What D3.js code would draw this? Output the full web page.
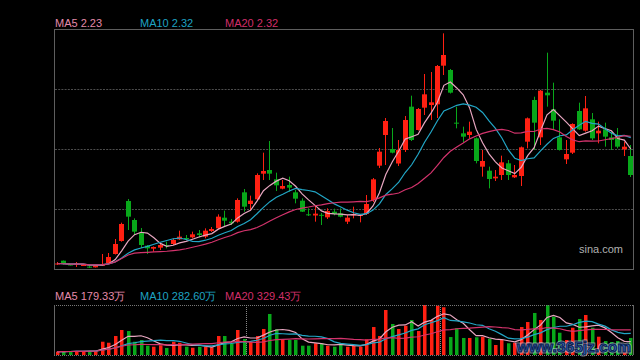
<!DOCTYPE html>
<html><head><meta charset="utf-8">
<script src="https://cdn.jsdelivr.net/npm/d3@7/dist/d3.min.js"></script>
<style>html,body{margin:0;padding:0;background:#000}svg{display:block}</style>
</head><body><svg id="c" width="640" height="360"></svg>
<script>
const opens=[1.547,1.570,1.547,1.547,1.541,1.534,1.530,1.540,1.556,1.610,
 1.688,1.928,1.814,1.736,1.660,1.642,1.648,1.664,1.670,1.698,
 1.706,1.710,1.734,1.714,1.748,1.764,1.828,1.804,1.804,1.980,
 1.910,1.938,2.092,2.114,2.058,2.002,2.024,1.980,1.930,1.848,
 1.841,1.845,1.830,1.864,1.854,1.804,1.842,1.838,1.850,1.934,
 2.140,2.324,2.240,2.153,2.234,2.494,2.354,2.488,2.504,2.508,
 2.740,2.714,2.398,2.334,2.324,2.304,2.134,2.110,2.064,2.084,
 2.154,2.070,2.078,2.284,2.534,2.310,2.578,2.478,2.310,2.178,
 2.218,2.468,2.350,2.418,2.334,2.358,2.310,2.314,2.238,2.198];
const highs=[1.562,1.571,1.550,1.562,1.544,1.541,1.544,1.610,1.616,1.700,
 1.798,1.940,1.824,1.766,1.664,1.655,1.674,1.684,1.704,1.750,
 1.724,1.744,1.754,1.764,1.772,1.848,1.870,1.820,1.944,2.000,
 1.960,2.094,2.218,2.288,2.098,2.054,2.074,1.994,1.944,1.884,
 1.904,1.856,1.884,1.882,1.884,1.844,1.894,1.847,1.964,2.066,
 2.246,2.426,2.366,2.294,2.438,2.560,2.486,2.690,2.702,2.744,
 2.934,2.720,2.494,2.374,2.404,2.309,2.234,2.134,2.114,2.200,
 2.174,2.144,2.255,2.429,2.554,2.594,2.818,2.638,2.418,2.294,
 2.394,2.518,2.558,2.456,2.404,2.398,2.344,2.366,2.284,2.264];
const lows=[1.544,1.547,1.541,1.532,1.538,1.526,1.529,1.538,1.553,1.607,
 1.684,1.754,1.724,1.646,1.610,1.624,1.634,1.644,1.664,1.694,
 1.694,1.704,1.710,1.704,1.742,1.760,1.774,1.784,1.798,1.864,
 1.874,1.934,2.054,2.054,1.988,1.998,1.984,1.914,1.862,1.838,
 1.804,1.784,1.820,1.842,1.830,1.790,1.824,1.800,1.844,1.922,
 2.126,2.144,2.214,2.138,2.222,2.288,2.351,2.444,2.414,2.426,
 2.684,2.573,2.364,2.280,2.304,2.154,2.074,2.004,2.048,2.054,
 2.054,2.066,2.018,2.244,2.234,2.264,2.494,2.354,2.231,2.150,
 2.210,2.354,2.344,2.294,2.274,2.254,2.234,2.244,2.198,2.072];
const closes=[1.553,1.550,1.544,1.553,1.544,1.528,1.544,1.550,1.592,1.670,
 1.790,1.834,1.744,1.664,1.644,1.652,1.664,1.658,1.694,1.714,
 1.700,1.728,1.724,1.750,1.760,1.834,1.810,1.794,1.934,1.894,
 1.930,2.084,2.108,2.092,2.022,2.018,2.008,1.942,1.864,1.842,
 1.852,1.842,1.868,1.850,1.834,1.828,1.850,1.844,1.910,2.058,
 2.224,2.408,2.218,2.234,2.414,2.294,2.480,2.568,2.520,2.738,
 2.804,2.578,2.392,2.314,2.344,2.168,2.168,2.060,2.074,2.160,
 2.084,2.084,2.250,2.424,2.398,2.590,2.562,2.410,2.234,2.210,
 2.390,2.358,2.484,2.304,2.350,2.314,2.294,2.254,2.254,2.084];
// volume in 万
const volumes=[42,42,51,51,51,51,51,170,157,243,
 320,307,170,192,119,106,124,90,170,157,
 106,93,106,106,99,243,243,150,320,205,
 170,243,333,525,329,201,192,192,119,119,
 150,150,119,106,150,106,115,106,201,358,
 243,576,397,333,375,448,307,640,448,631,
 611,230,342,218,218,227,234,209,128,192,
 150,157,358,422,538,448,640,490,285,192,
 349,461,512,349,234,179,166,179,115,218];
const maPeriods=[5,10,20];
const priceLegend=["MA5 2.23","MA10 2.32","MA20 2.32"];
const volLegend=["MA5 179.33万","MA10 282.60万","MA20 329.43万"];
const monthBreaks=[30,60];
const priceDomain=[1.52,2.96];
const volDomain=[0,640];

const maLineColors=["#e8a6c0","#22a6c6","#d3336c"];
const maTextColors=["#e48aaa","#1ea3c3","#d22e68"];
const UP="#ff2012", DOWN="#08a81a";

const svg=d3.select("#c");
svg.append("rect").attr("width",640).attr("height",360).attr("fill","#000");
const n=closes.length;
const L=54,R=634, PT=29,PB=269, VT=305,VB=355;
const x=d3.scaleBand().domain(d3.range(n)).range([L,R]).padding(0);
const cx=i=>Math.round(x(i)+x.bandwidth()/2-0.5)+0.5;
const y=d3.scaleLinear().domain(priceDomain).range([PB,PT]);
const yv=d3.scaleLinear().domain(volDomain).range([VB,VT]);

function ma(arr,p){return arr.map((v,i)=>{const s=Math.max(0,i-p+1);return d3.mean(arr.slice(s,i+1));});}

// main grid
const gridVals=d3.range(1,4).map(k=>priceDomain[0]+(priceDomain[1]-priceDomain[0])*k/4);
svg.append("g").selectAll("line").data(gridVals).join("line")
 .attr("x1",L+1).attr("x2",R).attr("y1",d=>Math.round(y(d))+0.5).attr("y2",d=>Math.round(y(d))+0.5)
 .attr("stroke","#4d4d4d").attr("stroke-dasharray","2,1.2");

// candles
const g=svg.append("g");
d3.range(n).forEach(i=>{
 const up=closes[i]>=opens[i];
 const col=up?UP:DOWN;
 const xc=cx(i);
 g.append("line").attr("x1",xc).attr("x2",xc).attr("y1",y(highs[i])).attr("y2",y(lows[i])).attr("stroke",col).attr("stroke-width",1);
 const top=y(Math.max(opens[i],closes[i])), bot=y(Math.min(opens[i],closes[i]));
 g.append("rect").attr("x",xc-2.5).attr("width",5).attr("y",top).attr("height",Math.max(1,bot-top)).attr("fill",col);
});
// MA lines price
maPeriods.forEach((p,k)=>{
 const m=ma(closes,p);
 svg.append("path").datum(m).attr("fill","none").attr("stroke",maLineColors[k]).attr("stroke-width",1.2)
  .attr("d",d3.line().x((d,i)=>x(i)+x.bandwidth()/2).y(d=>y(d)));
});
// main border
svg.append("rect").attr("x",L+0.5).attr("y",PT+0.5).attr("width",R-L-1).attr("height",PB-PT).attr("fill","none").attr("stroke","#5e5e5e");

// legends
const fnt="'Liberation Sans',Arial,sans-serif";
const legX=[55,140,225];
priceLegend.forEach((t,k)=>svg.append("text").attr("x",legX[k]).attr("y",27).attr("fill",maTextColors[k]).attr("font-family",fnt).attr("font-size",11).text(t));
const vLegX=[55,140,225];
volLegend.forEach((t,k)=>svg.append("text").attr("x",vLegX[k]).attr("y",299.5).attr("fill",maTextColors[k]).attr("font-family",fnt).attr("font-size",11).text(t));

svg.append("text").attr("x",623).attr("y",253).attr("text-anchor","end").attr("fill","#b0b0b0").attr("font-family",fnt).attr("font-size",11).text("sina.com");

// volume panel
const vg=svg.append("g");
svg.append("line").attr("x1",L).attr("x2",R).attr("y1",VT+0.5).attr("y2",VT+0.5).attr("stroke","#777").attr("stroke-dasharray","1,1");
svg.append("line").attr("x1",L).attr("x2",R).attr("y1",VB+0.5).attr("y2",VB+0.5).attr("stroke","#777").attr("stroke-dasharray","1,1");
monthBreaks.forEach(b=>{const xb=Math.round(x(b))+0.5-1;
 svg.append("line").attr("x1",xb).attr("x2",xb).attr("y1",VT).attr("y2",VB).attr("stroke","#888").attr("stroke-dasharray","1,1");});
d3.range(n).forEach(i=>{
 const up=closes[i]>=opens[i];
 const xc=cx(i);
 vg.append("rect").attr("x",xc-1.5).attr("width",3.5).attr("y",yv(volumes[i])).attr("height",VB-yv(volumes[i])).attr("fill",up?UP:DOWN);
});
maPeriods.forEach((p,k)=>{
 const m=ma(volumes,p);
 svg.append("path").datum(m).attr("fill","none").attr("stroke",maLineColors[k]).attr("stroke-width",1.2)
  .attr("d",d3.line().x((d,i)=>x(i)+x.bandwidth()/2).y(d=>yv(d)));
});
svg.append("line").attr("x1",L+0.5).attr("x2",L+0.5).attr("y1",VT).attr("y2",VB).attr("stroke","#666");
svg.append("line").attr("x1",R-0.5).attr("x2",R-0.5).attr("y1",VT).attr("y2",VB).attr("stroke","#666");

// watermark
const wm=svg.append("g");
wm.append("text").attr("x",517).attr("y",352)
 .attr("font-family",fnt).attr("font-weight","bold").attr("font-size",15.5)
 .attr("fill","#2f5fae").attr("stroke","#c8d4ea").attr("stroke-width",3).attr("paint-order","stroke").attr("stroke-opacity",0.55)
 .text("www.365jz.com");
wm.append("text").attr("x",517).attr("y",352)
 .attr("font-family",fnt).attr("font-weight","bold").attr("font-size",15.5)
 .attr("fill","#3567b8").attr("stroke","#0c2150").attr("stroke-width",1)
 .text("www.365jz.com");
</script></body></html>
